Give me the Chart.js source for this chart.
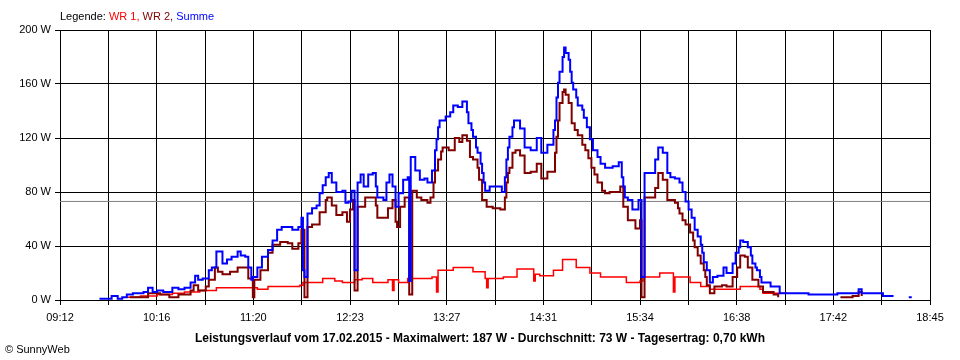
<!DOCTYPE html>
<html>
<head>
<meta charset="utf-8">
<script src="https://cdn.jsdelivr.net/npm/chart.js@4.4.1/dist/chart.umd.min.js"></script>
<style>
    body { margin: 0; background: #fff; }
    #wrap {
        position: relative; width: 960px; height: 360px;
        font-family: "Liberation Sans", Arial, sans-serif; font-size: 11px; color: #000;
    }
    #chart { position: absolute; left: 0; top: 0; }
    #legend { position: absolute; left: 60px; top: 10px; white-space: nowrap; }
    #title {
        position: absolute; left: 0; top: 331px; width: 960px; text-align: center;
        font-weight: bold; font-size: 12px; white-space: nowrap;
    }
    #copy { position: absolute; left: 5px; top: 343px; white-space: nowrap; }
</style>
</head>
<body>
<div id="wrap">
    <canvas id="chart" width="960" height="360"></canvas>
    <div id="legend">Legende: <span style="color:#ff0000">WR 1,</span> <span style="color:#800000">WR 2,</span> <span style="color:#0000ff">Summe</span></div>
    <div id="title">Leistungsverlauf vom 17.02.2015 - Maximalwert: 187 W - Durchschnitt: 73 W - Tagesertrag: 0,70 kWh</div>
    <div id="copy">© SunnyWeb</div>
</div>
<script>
// x axis: 09:12 .. 18:45, 18 grid intervals, label on every second one
const xTickLabels = ['09:12', '10:16', '11:20', '12:23', '13:27', '14:31', '15:34', '16:38', '17:42', '18:45'];
const yTicks = [0, 40, 80, 120, 160, 200];
const averageWatt = 73;

// Summe (blue)
const sumTimes = [
    '09:38','09:46','09:50','09:53','09:56','10:00','10:07','10:10','10:13','10:16',
    '10:20','10:26','10:30','10:34','10:38','10:41','10:43','10:46','10:50','10:52',
    '10:55','10:59','11:02','11:05','11:09','11:11','11:14','11:16','11:18','11:19',
    '11:22','11:25','11:29','11:32','11:35','11:38','11:41','11:45','11:49','11:51',
    '11:52','11:53','11:55','11:58','12:01','12:03','12:05','12:07','12:09','12:11',
    '12:14','12:18','12:20','12:22','12:24','12:26','12:28','12:30','12:32','12:35',
    '12:38','12:40','12:41','12:45','12:47','12:49','12:51','12:53','12:55','12:58',
    '13:01','13:02','13:03','13:06','13:09','13:12','13:14','13:17','13:19','13:20',
    '13:21','13:22','13:26','13:29','13:31','13:34','13:37','13:40','13:41','13:43',
    '13:44','13:46','13:47','13:49','13:50','13:51','13:52','13:55','14:00','14:03',
    '14:05','14:06','14:07','14:08','14:10','14:11','14:13','14:15','14:18','14:22',
    '14:26','14:29','14:33','14:37','14:38','14:39','14:40','14:41','14:43','14:44',
    '14:45','14:47','14:48','14:49','14:50','14:52','14:53','14:56','14:57','14:59',
    '15:01','15:03','15:06','15:08','15:11','15:16','15:20','15:22','15:23','15:24',
    '15:26','15:29','15:33','15:35','15:37','15:41','15:44','15:46','15:49','15:52',
    '15:54','15:57','16:00','16:02','16:04','16:06','16:08','16:10','16:12','16:14',
    '16:15','16:16','16:18','16:20','16:22','16:25','16:29','16:31','16:35','16:37',
    '16:39','16:40','16:42','16:45','16:47','16:48','16:50','16:51','16:53','16:54',
    '17:00','17:06','17:25','17:44','17:58','18:00','18:14','18:21','18:22','18:31','18:33'
];
const sumValues = [
    1, 3, 1, 2, 4, 5, 6, 9, 6, 7,
    6, 9, 8, 9, 13, 18, 15, 16, 22, 24,
    36, 27, 30, 32, 36, 33, 32, 24, 15, 17,
    24, 32, 37, 44, 52, 54, 54, 52, 54, 61,
    22, 17, 64, 68, 70, 79, 85, 91, 94, 87,
    80, 81, 72, 73, 81, 22, 87, 93, 84, 93,
    94, 84, 76, 74, 87, 93, 84, 69, 79, 89,
    91, 14, 106, 96, 89, 90, 87, 96, 111, 119,
    128, 133, 136, 139, 144, 143, 147, 139, 131, 126,
    121, 113, 109, 101, 94, 87, 81, 84, 84, 80,
    91, 104, 113, 121, 128, 133, 133, 127, 113, 111,
    120, 109, 115, 126, 133, 150, 161, 169, 180, 187,
    183, 178, 169, 161, 156, 150, 144, 141, 135, 128,
    119, 111, 106, 101, 98, 99, 102, 91, 84, 76,
    74, 67, 74, 17, 94, 94, 104, 113, 109, 94,
    91, 90, 87, 80, 73, 67, 61, 52, 47, 41,
    35, 28, 22, 13, 17, 18, 24, 20, 27, 35,
    39, 44, 43, 39, 33, 27, 24, 22, 17, 13,
    10, 5, 4, 5, 8, 5, 3, 3, null, 2, 2
];

// WR 2 (dark red)
const wr2Times = [
    '09:58','10:05','10:10','10:18','10:24','10:30','10:38','10:40','10:43','10:48',
    '10:50','10:54','10:56','10:59','11:04','11:09','11:13','11:16','11:19','11:20',
    '11:24','11:29','11:32','11:37','11:42','11:45','11:49','11:51','11:53','11:55',
    '11:58','12:03','12:07','12:08','12:11','12:14','12:18','12:21','12:23','12:25',
    '12:26','12:28','12:33','12:36','12:40','12:41','12:45','12:48','12:51','12:53',
    '12:54','12:56','12:59','13:02','13:04','13:07','13:10','13:14','13:16','13:18',
    '13:19','13:21','13:23','13:24','13:28','13:32','13:35','13:37','13:40','13:42',
    '13:44','13:47','13:48','13:50','13:53','13:57','14:02','14:05','14:06','14:07',
    '14:08','14:10','14:12','14:15','14:18','14:22','14:26','14:29','14:33','14:38',
    '14:39','14:40','14:41','14:43','14:44','14:45','14:47','14:49','14:51','14:53',
    '14:56','14:58','15:00','15:02','15:04','15:06','15:09','15:11','15:14','15:19',
    '15:21','15:23','15:26','15:31','15:34','15:35','15:37','15:42','15:44','15:46',
    '15:49','15:52','15:57','15:59','16:00','16:02','16:04','16:07','16:09','16:10',
    '16:12','16:14','16:16','16:17','16:18','16:20','16:23','16:28','16:31','16:35',
    '16:38','16:40','16:43','16:45','16:48','16:52','16:55','17:02','17:05','17:13',
    '17:46','17:54','17:58','18:00','18:02'
];
const wr2Values = [
    2, 2, 5, 4, 2, 4, 7, 11, 7, 10,
    15, 24, 21, 19, 21, 24, 24, 16, 2, 15,
    22, 35, 41, 43, 42, 38, 42, 52, 2, 54,
    56, 65, 74, 76, 70, 63, 65, 58, 67, 74,
    7, 69, 76, 76, 70, 61, 61, 68, 74, 58,
    54, 69, 76, 4, 81, 76, 74, 72, 76, 87,
    96, 104, 110, 113, 111, 120, 117, 122, 118, 106,
    104, 98, 89, 74, 69, 68, 67, 76, 87, 94,
    98, 109, 111, 107, 94, 95, 101, 90, 95, 109,
    121, 133, 146, 154, 156, 152, 146, 131, 126, 122,
    115, 111, 105, 98, 93, 87, 81, 79, 80, 80,
    84, 69, 59, 53, 59, 2, 76, 76, 83, 94,
    89, 74, 72, 68, 64, 59, 56, 50, 44, 39,
    33, 27, 22, 17, 11, 5, 10, 11, 10, 17,
    24, 33, 32, 24, 15, 10, 6, 4, 2, null,
    2, 3, 6, 3, null
];

// WR 1 (red)
const wr1Times = [
    '09:56','10:05','10:16','10:26','10:34','10:44','10:55','11:10','11:22','11:29',
    '11:50','11:52','12:03','12:05','12:13','12:18','12:26','12:31','12:38','12:48',
    '12:51','12:52','12:55','13:01','13:10','13:17','13:20','13:21','13:31','13:44',
    '13:52','13:53','13:54','14:04','14:13','14:24','14:25','14:28','14:37','14:43',
    '14:52','15:01','15:08','15:21','15:25','15:34','15:36','15:47','15:56','15:57',
    '16:07','16:14','16:20','16:33','16:40','16:53','16:55','17:11','17:12','17:55','17:58'
];
const wr1Values = [
    2, 3, 4, 5, 6, 7, 9, 9, 8, 10,
    11, 13, 13, 16, 14, 13, 15, 16, 13, 15,
    7, 15, 13, 16, 16, 17, 6, 22, 24, 21,
    16, 9, 16, 17, 23, 14, 19, 18, 22, 30,
    24, 20, 17, 17, 13, 14, 17, 20, 6, 17,
    13, 10, 8, 8, 10, 8, 5, 5, null, 3, null
];

const xMin = 9 * 60 + 12;
const xMax = 18 * 60 + 45;

function toMin(t) {
    const p = t.split(':');
    return Number(p[0]) * 60 + Number(p[1]);
}

function points(times, values) {
    return times.map((t, i) => ({ x: toMin(t), y: values[i] }));
}

function lineSet(label, times, values, color, width, order) {
    return {
        label: label,
        data: points(times, values),
        borderColor: color,
        borderWidth: width,
        pointRadius: 0,
        stepped: true,
        spanGaps: false,
        fill: false,
        order: order
    };
}

const font = { family: 'Liberation Sans', size: 11 };

new Chart(document.getElementById('chart'), {
    type: 'line',
    data: {
        datasets: [
            lineSet('Summe', sumTimes, sumValues, '#0000ff', 2, 1),
            lineSet('WR 2', wr2Times, wr2Values, '#800000', 2, 2),
            lineSet('WR 1', wr1Times, wr1Values, '#ff0000', 1.5, 3),
            {
                label: 'Durchschnitt',
                data: [{ x: xMin, y: averageWatt }, { x: xMax, y: averageWatt }],
                borderColor: '#808080',
                borderWidth: 1,
                pointRadius: 0,
                order: 4
            }
        ]
    },
    options: {
        responsive: false,
        animation: false,
        events: [],
        layout: { padding: { top: 30, right: 30, left: 0, bottom: 0 } },
        plugins: {
            legend: { display: false },
            tooltip: { enabled: false }
        },
        scales: {
            x: {
                type: 'linear',
                min: xMin,
                max: xMax,
                afterBuildTicks: scale => {
                    const step = (xMax - xMin) / 18;
                    const ticks = [];
                    for (let i = 0; i <= 18; i++) {
                        ticks.push({ value: xMin + i * step });
                    }
                    scale.ticks = ticks;
                },
                afterFit: scale => { scale.height = 60; },
                ticks: {
                    autoSkip: false,
                    maxRotation: 0,
                    color: '#000',
                    font: font,
                    padding: 6,
                    callback: (value, index) => index % 2 === 0 ? xTickLabels[index / 2] : ''
                },
                grid: { color: '#000', lineWidth: 1, tickLength: 5 },
                border: { color: '#000', width: 1 }
            },
            y: {
                min: yTicks[0],
                max: yTicks[yTicks.length - 1],
                afterFit: scale => { scale.width = 60; },
                ticks: {
                    stepSize: 40,
                    color: '#000',
                    font: font,
                    padding: 4,
                    callback: value => value + ' W'
                },
                grid: { color: '#000', lineWidth: 1, tickLength: 5 },
                border: { color: '#000', width: 1 }
            }
        }
    }
});
</script>
</body>
</html>
